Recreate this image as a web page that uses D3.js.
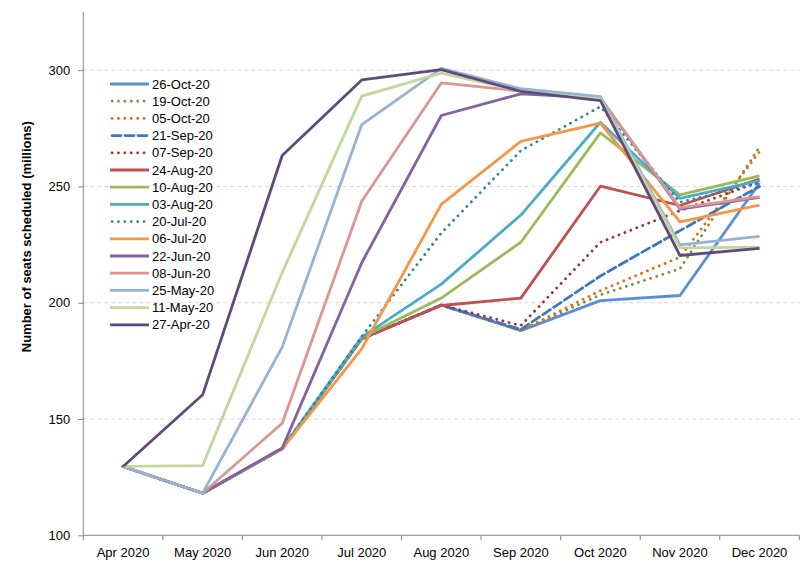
<!DOCTYPE html>
<html>
<head>
<meta charset="utf-8">
<script src="https://cdn.jsdelivr.net/npm/d3@7"></script>
<style>
  body { margin: 0; background: #fff; }
  text { font-family: "Liberation Sans", Arial, sans-serif; fill: #000; }
</style>
</head>
<body>
<svg id="chart" width="807" height="563"></svg>
<script>
// months on the x axis
const months = ["Apr 2020", "May 2020", "Jun 2020", "Jul 2020", "Aug 2020", "Sep 2020", "Oct 2020", "Nov 2020", "Dec 2020"];
const yTicks = [100, 150, 200, 250, 300];

// one array per schedule snapshot (seats, millions)
const oct26 = [129.6, 118.1, 137.2, 184.5, 199.0, 188.0, 200.9, 203.1, 251.5];
const oct19 = [129.6, 118.1, 137.2, 184.5, 199.0, 188.0, 203.4, 214.6, 267.0];
const oct05 = [129.6, 118.1, 137.2, 184.5, 199.0, 188.0, 205.2, 219.6, 265.0];
const sep21 = [129.6, 118.1, 137.2, 184.5, 199.0, 188.5, 211.5, 231.0, 250.0];
const sep07 = [129.6, 118.1, 137.2, 184.5, 199.0, 190.2, 226.0, 239.6, 252.0];
const aug24 = [129.6, 118.1, 137.2, 184.5, 198.8, 202.0, 250.1, 241.8, 253.2];
const aug10 = [129.6, 118.1, 137.2, 185.0, 202.0, 226.0, 273.0, 246.4, 254.5];
const aug03 = [129.6, 118.1, 137.2, 185.2, 208.0, 237.7, 277.6, 244.9, 252.5];
const jul20 = [129.6, 118.1, 137.2, 185.5, 230.0, 265.4, 284.3, 243.2, 251.5];
const jul06 = [129.6, 118.1, 137.2, 180.2, 242.3, 269.4, 277.2, 234.8, 242.0];
const jun22 = [129.6, 118.1, 137.5, 217.2, 280.5, 289.8, 288.0, 240.3, 245.3];
const jun08 = [129.6, 118.1, 148.2, 243.6, 294.5, 291.0, 288.0, 240.8, 245.6];
const may25 = [129.6, 118.1, 180.9, 276.6, 300.8, 292.0, 288.6, 224.9, 228.5];
const may11 = [129.6, 130.0, 213.0, 288.8, 298.7, 291.0, 287.5, 223.6, 223.9];
const apr27 = [129.6, 160.4, 263.3, 295.8, 300.2, 290.9, 286.9, 220.3, 223.4];

const seriesNames = ["26-Oct-20", "19-Oct-20", "05-Oct-20", "21-Sep-20", "07-Sep-20", "24-Aug-20", "10-Aug-20",
    "03-Aug-20", "20-Jul-20", "06-Jul-20", "22-Jun-20", "08-Jun-20", "25-May-20", "11-May-20", "27-Apr-20"];
const seriesValues = [oct26, oct19, oct05, sep21, sep07, aug24, aug10, aug03, jul20, jul06, jun22, jun08, may25, may11, apr27];
const seriesColors = ["#5A8FD6", "#77933C", "#E46C0A", "#3F76BE", "#953735", "#C0504D", "#9BBB59",
    "#4BACC6", "#31859C", "#F79646", "#8064A2", "#D99694", "#95B3D7", "#C3D69B", "#604A7B"];
const seriesStyles = ["solid", "dot", "dot", "dash", "dot", "solid", "solid",
    "solid", "dot", "solid", "solid", "solid", "solid", "solid", "solid"];

const dashFor = { solid: null, dot: "0.1 6.3", dash: "9 4" };

const svg = d3.select("#chart");
const mLeft = 83.3, mRight = 799.3, mTop = 12, mBottom = 535.3;

const x = d3.scaleBand().domain(months).range([mLeft, mRight]);
const y = d3.scaleLinear().domain([100, 325]).range([mBottom, mTop]);

// grid lines
svg.append("g")
    .selectAll("line")
    .data(yTicks.filter(d => d > 100))
    .enter().append("line")
    .attr("x1", mLeft).attr("x2", mRight)
    .attr("y1", d => y(d)).attr("y2", d => y(d))
    .attr("stroke", "#d9d9d9")
    .attr("stroke-dasharray", "4 3");

// y axis
const yAxis = svg.append("g")
    .attr("transform", `translate(${mLeft},0)`)
    .call(d3.axisLeft(y).tickValues(yTicks).tickSize(5).tickPadding(8));
yAxis.select(".domain").attr("d", `M0,${mTop}V${mBottom}`);

// x axis, ticks sit on the band edges
const xAxis = svg.append("g")
    .attr("transform", `translate(0,${mBottom})`)
    .call(d3.axisBottom(x).tickSize(0).tickPadding(12));
xAxis.select(".domain").attr("d", `M${mLeft},0H${mRight}`);
xAxis.selectAll(".edge")
    .data(d3.range(months.length + 1))
    .enter().append("line")
    .attr("class", "edge")
    .attr("x1", i => mLeft + i * x.bandwidth())
    .attr("x2", i => mLeft + i * x.bandwidth())
    .attr("y1", 0).attr("y2", 5);

svg.selectAll(".domain, .tick line, .edge").attr("stroke", "#868686");
svg.selectAll(".tick text").style("font-size", "13px").attr("fill", "#000");

// y axis title
svg.append("text")
    .attr("transform", `translate(31,${(mTop + mBottom) / 2 - 37}) rotate(-90)`)
    .attr("text-anchor", "middle")
    .style("font-size", "13px")
    .style("font-weight", "bold")
    .text("Number of seats scheduled (millions)");

// series lines, first series drawn underneath
const line = d3.line()
    .x((d, i) => x(months[i]) + x.bandwidth() / 2)
    .y(d => y(d));

const lines = svg.append("g");
seriesValues.forEach((vals, k) => {
    lines.append("path")
        .datum(vals)
        .attr("d", line)
        .attr("fill", "none")
        .attr("stroke", seriesColors[k])
        .attr("stroke-width", 2.8)
        .attr("stroke-linejoin", "round")
        .attr("stroke-linecap", seriesStyles[k] === "solid" ? "butt" : "round")
        .attr("stroke-dasharray", dashFor[seriesStyles[k]]);
});

// legend
const legend = svg.append("g").attr("transform", "translate(110,84)");
const rows = legend.selectAll("g")
    .data(seriesNames)
    .enter().append("g")
    .attr("transform", (d, i) => `translate(0,${i * 17.2})`);
rows.append("line")
    .attr("x1", (d, i) => seriesStyles[i] === "solid" ? 0 : 2)
    .attr("x2", 39)
    .attr("stroke", (d, i) => seriesColors[i])
    .attr("stroke-width", 2.8)
    .attr("stroke-linecap", (d, i) => seriesStyles[i] === "solid" ? "butt" : "round")
    .attr("stroke-dasharray", (d, i) => dashFor[seriesStyles[i]]);
rows.append("text")
    .attr("x", 42)
    .attr("dy", "0.35em")
    .style("font-size", "13px")
    .text(d => d);
</script>
</body>
</html>
